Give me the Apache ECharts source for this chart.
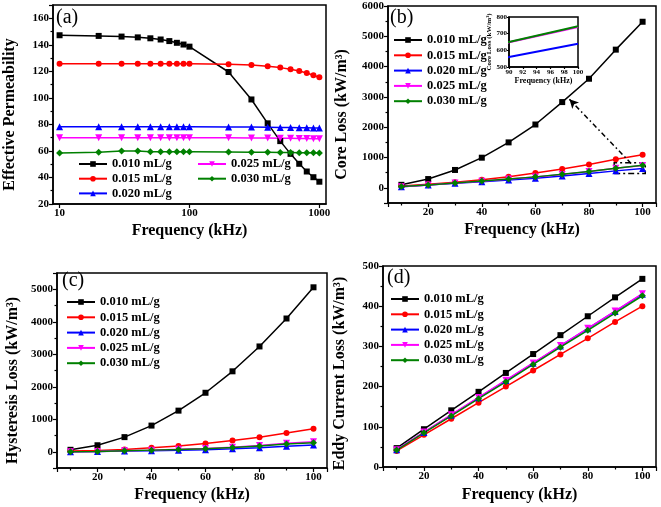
<!DOCTYPE html>
<html>
<head>
<meta charset="utf-8">
<script src="https://cdn.jsdelivr.net/npm/echarts@6/dist/echarts.min.js"></script>
<style>
html,body{margin:0;padding:0;background:#fff;}
#chart{width:661px;height:507px;}
</style>
</head>
<body>
<div id="chart"></div>
<script>
// ---------- DATA ----------
const seriesNames = ['0.010 mL/g', '0.015 mL/g', '0.020 mL/g', '0.025 mL/g', '0.030 mL/g'];

// (a) Effective permeability vs frequency (log axis)
const freqA = [10, 20, 30, 40, 50, 60, 70, 80, 90, 100, 200, 300, 400, 500, 600, 700, 800, 900, 1000];
const permA010 = [147.2, 146.7, 146.2, 145.6, 144.9, 144.0, 142.8, 141.5, 140.2, 138.6, 119.5, 98.8, 80.8, 67.4, 57.8, 50.3, 44.5, 40.2, 36.8];
const permA015 = [125.8, 125.8, 125.8, 125.8, 125.8, 125.8, 125.8, 125.8, 125.7, 125.7, 125.3, 124.8, 123.8, 122.8, 121.5, 120.2, 118.7, 117.0, 115.5];
const permA020 = [78.2, 78.2, 78.2, 78.2, 78.2, 78.2, 78.2, 78.2, 78.2, 78.2, 78.1, 78.0, 77.9, 77.7, 77.6, 77.5, 77.4, 77.3, 77.2];
const permA025 = [70.0, 70.0, 70.0, 70.0, 70.0, 70.0, 70.0, 70.0, 70.0, 70.0, 69.9, 69.8, 69.7, 69.6, 69.5, 69.4, 69.3, 69.2, 69.2];
const permA030 = [58.5, 59.0, 60.0, 60.0, 59.3, 59.3, 59.3, 59.3, 59.3, 59.3, 59.2, 59.1, 59.0, 58.9, 58.8, 58.7, 58.6, 58.6, 58.5];

// (b)(c)(d) frequency
const freqB = [10, 20, 30, 40, 50, 60, 70, 80, 90, 100];

// (b) Core loss
const coreB010 = [100, 290, 590, 995, 1500, 2090, 2830, 3600, 4560, 5480];
const coreB015 = [60, 120, 185, 270, 370, 490, 625, 770, 940, 1090];
const coreB020 = [40, 90, 150, 200, 260, 320, 390, 470, 560, 640];
const coreB025 = [40, 95, 160, 220, 290, 360, 440, 540, 648, 740];
const coreB030 = [42, 97, 163, 225, 293, 362, 448, 543, 650, 745];

// (c) Hysteresis loss
const hystC010 = [60, 200, 450, 805, 1265, 1815, 2475, 3240, 4100, 5060];
const hystC015 = [20, 40, 70, 120, 180, 255, 345, 445, 578, 710];
const hystC020 = [0, 5, 20, 30, 45, 65, 90, 125, 170, 210];
const hystC025 = [0, 10, 30, 50, 75, 100, 140, 195, 260, 310];
const hystC030 = [0, 10, 30, 50, 70, 95, 130, 180, 240, 280];

// (d) Eddy current loss
const eddyD010 = [47, 94, 141, 187, 234, 281, 328, 375, 422, 468];
const eddyD015 = [40, 80, 120, 160, 200, 240, 280, 320, 361, 400];
const eddyD020 = [43, 86, 129, 172, 215, 258, 301, 344, 387, 430];
const eddyD025 = [43, 87, 130, 173, 216, 259, 302, 345, 388, 431];
const eddyD030 = [42, 85, 127, 170, 212, 255, 298, 340, 383, 426];

// (b) annotation: zoom box and arrow (data coordinates)
const zoomBox = [[89.4, 475], [101, 830]];
const arrowLine = [[95.7, 805], [72.7, 2920]];

// ---------- STYLE ----------
const colors = ['#000000', '#ff0000', '#0000ff', '#ff00ff', '#008000'];
const symbols = ['rect', 'circle', 'triangle', 'triangle', 'diamond'];
const symRot = [0, 0, 0, 180, 0];
const symSize = [6, 6, 7, 7, 7];
const FONT = '"Liberation Serif", "Times New Roman", serif';

function zip(xs, ys) { return xs.map((x, i) => [x, ys[i]]); }

function mkSeries(idx, xi, yi, xs, ys, extra) {
  return Object.assign({
    type: 'line', name: seriesNames[idx], xAxisIndex: xi, yAxisIndex: yi,
    data: zip(xs, ys), color: colors[idx], symbol: symbols[idx], symbolRotate: symRot[idx],
    symbolSize: symSize[idx], showAllSymbol: true, animation: false,
    lineStyle: { width: 1.5, color: colors[idx] }, itemStyle: { color: colors[idx] }
  }, extra || {});
}

const plain = v => String(v);
const axisCommon = {
  axisLine: { show: true, onZero: false, lineStyle: { color: '#000', width: 1.5 } },
  axisTick: { show: true, inside: false, length: 4, lineStyle: { color: '#000', width: 1.2 } },
  minorTick: { show: true, splitNumber: 2, length: 2.5, lineStyle: { color: '#000', width: 1.2 } },
  splitLine: { show: false },
  axisLabel: { color: '#000', fontFamily: FONT, fontWeight: 'bold', fontSize: 11, margin: 4, formatter: plain },
  nameTextStyle: { color: '#000', fontFamily: FONT, fontWeight: 'bold', fontSize: 16 }
};
function ax(o) { return echarts.util.merge(echarts.util.clone(axisCommon), o, true); }

const grids = [
  { left: 53, top: 5, width: 273, height: 199 },     // a
  { left: 388, top: 6, width: 268, height: 197 },    // b
  { left: 57, top: 273, width: 270, height: 195 },   // c
  { left: 383, top: 266, width: 273, height: 201 },  // d
  { left: 509, top: 17, width: 69, height: 50 }      // inset
].map(g => Object.assign({ show: true, borderColor: '#000', borderWidth: 1.5, backgroundColor: 'transparent' }, g));

const isPow10 = v => Math.abs(Math.log10(v) - Math.round(Math.log10(v))) < 1e-6;

const xAxes = [
  ax({ type: 'log', gridIndex: 0, min: 8.9, max: 1125, logBase: 10, minorTick: { show: false },
       axisLabel: { showMinLabel: false, showMaxLabel: false, formatter: v => isPow10(v) ? String(Math.round(v)) : '' },
       name: 'Frequency (kHz)', nameLocation: 'middle', nameGap: 19 }),
  ax({ type: 'value', gridIndex: 1, min: 5, max: 105, splitNumber: 5,
       axisLabel: { showMinLabel: false, showMaxLabel: false },
       name: 'Frequency (kHz)', nameLocation: 'middle', nameGap: 19 }),
  ax({ type: 'value', gridIndex: 2, min: 5, max: 105, splitNumber: 5,
       axisLabel: { showMinLabel: false, showMaxLabel: false },
       name: 'Frequency (kHz)', nameLocation: 'middle', nameGap: 19 }),
  ax({ type: 'value', gridIndex: 3, min: 5, max: 105, splitNumber: 5,
       axisLabel: { showMinLabel: false, showMaxLabel: false },
       name: 'Frequency (kHz)', nameLocation: 'middle', nameGap: 20 }),
  ax({ type: 'value', gridIndex: 4, min: 90, max: 100, interval: 2, minorTick: { show: false },
       axisTick: { length: 2 }, axisLabel: { fontSize: 7, margin: 2 },
       name: 'Frequency (kHz)', nameLocation: 'middle', nameGap: 9, nameTextStyle: { fontSize: 8 } })
];

const yAxes = [
  ax({ type: 'value', gridIndex: 0, min: 20, max: 170, splitNumber: 7,
       axisLabel: { showMaxLabel: false },
       name: 'Effective Permeability', nameLocation: 'middle', nameGap: 35, nameTextStyle: { padding: [0, 20, 0, 0] } }),
  ax({ type: 'value', gridIndex: 1, min: -500, max: 6000, splitNumber: 6,
       axisLabel: { showMinLabel: false },
       name: 'Core Loss (kW/m³)', nameLocation: 'middle', nameGap: 38, nameTextStyle: { padding: [0, 20, 0, 0] } }),
  ax({ type: 'value', gridIndex: 2, min: -500, max: 5500, splitNumber: 6,
       axisLabel: { showMinLabel: false, showMaxLabel: false },
       name: 'Hysteresis Loss (kW/m³)', nameLocation: 'middle', nameGap: 36, nameTextStyle: { padding: [0, 20, 0, 0] } }),
  ax({ type: 'value', gridIndex: 3, min: 0, max: 500, interval: 100,
       name: 'Eddy Current Loss (kW/m³)', nameLocation: 'middle', nameGap: 35, nameTextStyle: { padding: [0, 14, 0, 0] } }),
  ax({ type: 'value', gridIndex: 4, min: 500, max: 800, interval: 100, minorTick: { show: false },
       axisTick: { length: 2 }, axisLabel: { fontSize: 7, margin: 2 },
       name: 'Core Loss (kW/m³)', nameLocation: 'middle', nameGap: 13, nameTextStyle: { fontSize: 7 } })
];

const series = [];
[permA010, permA015, permA020, permA025, permA030].forEach((d, i) => series.push(mkSeries(i, 0, 0, freqA, d)));
[coreB010, coreB015, coreB020, coreB025, coreB030].forEach((d, i) => series.push(mkSeries(i, 1, 1, freqB, d)));
[hystC010, hystC015, hystC020, hystC025, hystC030].forEach((d, i) => series.push(mkSeries(i, 2, 2, freqB, d)));
[eddyD010, eddyD015, eddyD020, eddyD025, eddyD030].forEach((d, i) => series.push(mkSeries(i, 3, 3, freqB, d)));

// inset lines (no markers)
[[2, coreB020], [3, coreB025], [4, coreB030]].forEach(([i, d]) => {
  series.push({
    type: 'line', name: 'inset ' + seriesNames[i], xAxisIndex: 4, yAxisIndex: 4,
    data: zip(freqB, d), showSymbol: false, clip: true, animation: false,
    lineStyle: { width: 2, color: colors[i] }, itemStyle: { color: colors[i] }, z: 5
  });
});

// annotation on (b)
series.push({
  type: 'line', name: 'annot', xAxisIndex: 1, yAxisIndex: 1, data: [], animation: false, silent: true,
  markArea: { silent: true,
    itemStyle: { color: 'rgba(0,0,0,0)', borderColor: '#000', borderWidth: 1.5, borderType: [6, 3, 2, 3] },
    data: [[{ coord: zoomBox[0] }, { coord: zoomBox[1] }]] },
  markLine: { silent: true, symbol: ['none', 'arrow'], symbolSize: [7, 9], label: { show: false },
    lineStyle: { color: '#000', width: 1.5, type: [5, 3, 1.5, 3] },
    data: [[{ coord: arrowLine[0] }, { coord: arrowLine[1] }]] }
});

const legendBase = {
  orient: 'vertical', itemWidth: 28, itemHeight: 7, padding: 0, itemGap: 1.3, selectedMode: false,
  textStyle: { color: '#000', fontFamily: FONT, fontWeight: 'bold', fontSize: 12.5, lineHeight: 14 }
};
const legends = [
  Object.assign({}, legendBase, { left: 78, top: 157, itemGap: 0.7, data: seriesNames.slice(0, 3) }),
  Object.assign({}, legendBase, { left: 197, top: 157, itemGap: 0.7, data: seriesNames.slice(3, 5) }),
  Object.assign({}, legendBase, { left: 393, top: 33, data: seriesNames.slice() }),
  Object.assign({}, legendBase, { left: 66, top: 295, data: seriesNames.slice() }),
  Object.assign({}, legendBase, { left: 390, top: 292, data: seriesNames.slice() })
];

const panelLabelStyle = { color: '#000', fontFamily: FONT, fontWeight: 'normal', fontSize: 20 };
const titles = [
  { text: '(a)', left: 56, top: 8 },
  { text: '(b)', left: 390, top: 8 },
  { text: '(c)', left: 62, top: 271 },
  { text: '(d)', left: 387, top: 268 }
].map(t => Object.assign({ padding: 0, textStyle: panelLabelStyle }, t));

const chart = echarts.init(document.getElementById('chart'), null, { renderer: 'canvas' });
chart.setOption({
  backgroundColor: '#fff',
  animation: false,
  title: titles,
  legend: legends,
  grid: grids,
  xAxis: xAxes,
  yAxis: yAxes,
  series: series
});
</script>
</body>
</html>
